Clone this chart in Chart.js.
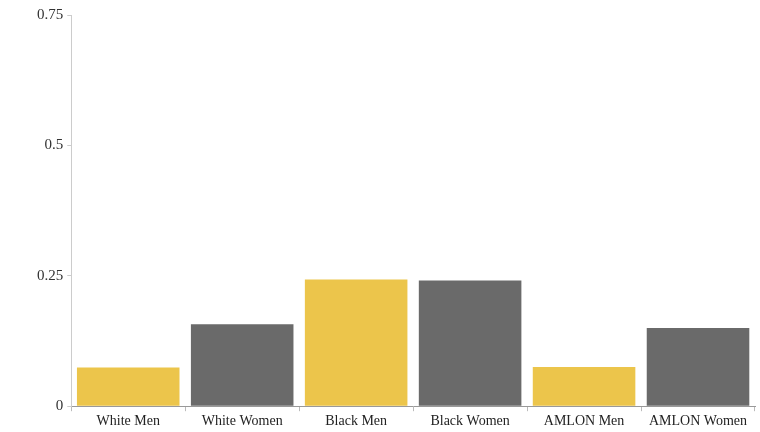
<!DOCTYPE html>
<html>
<head>
<meta charset="utf-8">
<script src="https://cdn.jsdelivr.net/npm/chart.js@4"></script>
<style>
html,body{margin:0;padding:0;background:#fff;overflow:hidden;}
#wrap{width:760px;height:432px;position:relative;}
canvas{display:block;}
</style>
</head>
<body>
<div id="wrap"><canvas id="c" width="760" height="432"></canvas></div>
<script>
const categories = ["White Men","White Women","Black Men","Black Women","AMLON Men","AMLON Women"];
const values = [0.074, 0.157, 0.243, 0.241, 0.075, 0.150];
const barColors = ["#ECC54B","#6A6A6A","#ECC54B","#6A6A6A","#ECC54B","#6A6A6A"];
const yTicks = [0, 0.25, 0.5, 0.75];
const yTickLabels = ["0","0.25","0.5","0.75"];

new Chart(document.getElementById('c'), {
  type: 'bar',
  data: {
    labels: categories,
    datasets: [{
      data: values,
      backgroundColor: barColors,
      borderWidth: 0,
      categoryPercentage: 0.9,
      barPercentage: 1.0
    }]
  },
  options: {
    responsive: false,
    animation: false,
    layout: { padding: { left: 33, right: 5, top: 15, bottom: 0 } },
    plugins: { legend: { display: false }, tooltip: { enabled: false } },
    scales: {
      x: {
        offset: true,
        grid: { display: true, drawOnChartArea: false, drawTicks: true, tickLength: 5, color: '#bbbbbb', offset: true },
        border: { display: true, color: '#999999', width: 1 },
        ticks: { color: '#222', font: { family: 'Liberation Serif', size: 14 }, maxRotation: 0, autoSkip: false, padding: 2 }
      },
      y: {
        min: 0, max: 0.75,
        afterBuildTicks: (axis) => { axis.ticks = yTicks.map(v => ({ value: v })); },
        grid: { display: true, drawOnChartArea: false, drawTicks: true, tickLength: 4, color: '#cccccc' },
        border: { display: true, color: '#cccccc', width: 1 },
        ticks: {
          color: '#333',
          font: { family: 'Liberation Serif', size: 15 },
          padding: 4,
          callback: (v) => { const i = yTicks.indexOf(v); return i >= 0 ? yTickLabels[i] : ''; }
        }
      }
    }
  }
});
</script>
</body>
</html>
